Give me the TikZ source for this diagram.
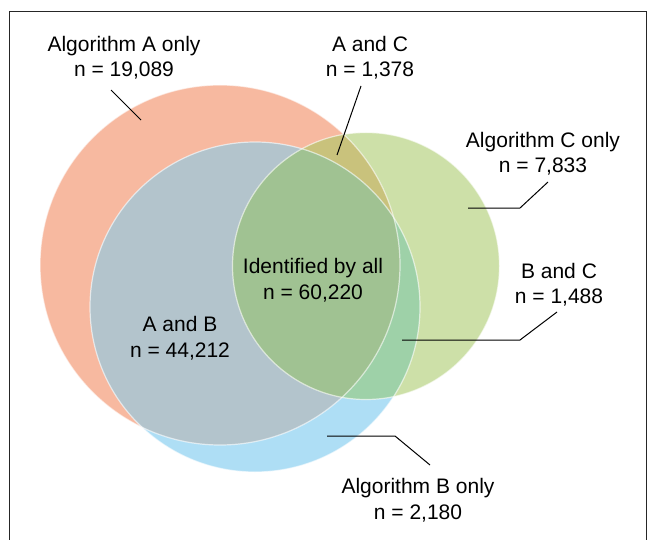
\documentclass[tikz,border=0pt]{standalone}
\usepackage{fontspec}
\setmainfont{Liberation Sans}
\definecolor{cA}{HTML}{F7B9A0}
\definecolor{cB}{HTML}{AEDEF5}
\definecolor{cC}{HTML}{CDE0A8}
\definecolor{cAB}{HTML}{B3C4CC}
\definecolor{cAC}{HTML}{C9C27C}
\definecolor{cBC}{HTML}{9ED1A8}
\definecolor{cABC}{HTML}{A0C292}
\begin{document}
\begin{tikzpicture}[x=1pt,y=-1pt,
  lbl/.style={align=center, font=\fontsize{21}{25.5}\selectfont, inner sep=0pt},
  leader/.style={draw=black, line width=1pt},
  rim/.style={draw=white, draw opacity=0.6, line width=1.2pt}]
\useasboundingbox (0,0) rectangle (647,540);
% frame
\draw[line width=1pt, draw=black!85] (9,540) -- (9,12) -- (646,12) -- (646,540);
% circles
\fill[cA] (220,265) circle[radius=180];
\fill[cB] (255,307) circle[radius=165];
\fill[cC] (366,266) circle[radius=133.5];
\begin{scope}
  \clip (220,265) circle[radius=180];
  \fill[cAB] (255,307) circle[radius=165];
  \fill[cAC] (366,266) circle[radius=133.5];
\end{scope}
\begin{scope}
  \clip (255,307) circle[radius=165];
  \fill[cBC] (366,266) circle[radius=133.5];
  \clip (220,265) circle[radius=180];
  \fill[cABC] (366,266) circle[radius=133.5];
\end{scope}
\path[rim] (220,265) circle[radius=180];
\path[rim] (255,307) circle[radius=165];
\path[rim] (366,266) circle[radius=133.5];
% labels
\node[lbl] (lA) at (124,57.7) {Algorithm A only\\n = 19,089};
\node[lbl] (lAC) at (370,57.7) {A and C\\n = 1,378};
\node[lbl] (lC) at (543,153.7) {Algorithm C only\\n = 7,833};
\node[lbl] (lABC) at (313,280.2) {Identified by all\\n = 60,220};
\node[lbl] (lBC) at (559,284.5) {B and C\\n = 1,488};
\node[lbl] (lAB) at (180,338) {A and B\\n = 44,212};
\node[lbl] (lB) at (418,500.2) {Algorithm B only\\n = 2,180};
% leader lines
\coordinate (pA1) at (111,90);   \coordinate (pA2) at (141,120);
\coordinate (pAC1) at (361,86);  \coordinate (pAC2) at (337,155);
\coordinate (pC1) at (548,182);  \coordinate (pC2) at (520,208); \coordinate (pC3) at (468,208);
\coordinate (pBC1) at (557,312); \coordinate (pBC2) at (520,340); \coordinate (pBC3) at (402,340);
\coordinate (pB1) at (430,465);  \coordinate (pB2) at (395,436); \coordinate (pB3) at (327,436);
\draw[leader] (pA1) -- (pA2);
\draw[leader] (pAC1) -- (pAC2);
\draw[leader] (pC1) -- (pC2) -- (pC3);
\draw[leader] (pBC1) -- (pBC2) -- (pBC3);
\draw[leader] (pB1) -- (pB2) -- (pB3);
\end{tikzpicture}
\end{document}
